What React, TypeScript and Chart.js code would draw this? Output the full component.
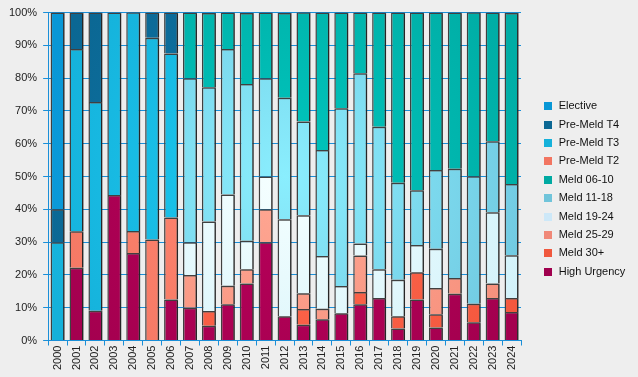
import React, { useEffect, useRef } from "react";
import { Chart, registerables } from "chart.js";

Chart.register(...registerables);

const years = [
  "2000", "2001", "2002", "2003", "2004", "2005", "2006", "2007", "2008", "2009",
  "2010", "2011", "2012", "2013", "2014", "2015", "2016", "2017", "2018", "2019",
  "2020", "2021", "2022", "2023", "2024",
];

// Stacked bottom -> top (percent of each year)
const highUrgency = [0, 22.2, 9.1, 44.4, 26.7, 0, 12.5, 10, 4.5, 11.1, 17.4, 30, 7.4, 4.8, 6.5, 8.3, 11.1, 13.0, 3.7, 12.5, 4, 14.3, 5.6, 13.0, 8.7];
const meld30 = [0, 0, 0, 0, 0, 0, 0, 0, 4.5, 0, 0, 0, 0, 4.8, 0, 0, 3.7, 0, 3.7, 8.3, 4, 0, 5.6, 0, 4.3];
const meld2529 = [0, 0, 0, 0, 0, 0, 0, 10, 0, 5.6, 4.3, 10, 0, 4.8, 3.2, 0, 11.1, 0, 0, 0, 8, 4.8, 0, 4.4, 0];
const meld1924 = [0, 0, 0, 0, 0, 0, 0, 10, 27.3, 27.8, 8.7, 10, 29.6, 23.8, 16.1, 8.3, 3.7, 8.7, 11.1, 8.3, 12, 0, 0, 21.7, 13.0];
const meld1118 = [0, 0, 0, 0, 0, 0, 0, 50, 40.9, 44.4, 47.8, 30, 37.0, 28.6, 32.3, 54.2, 51.9, 43.5, 29.6, 16.7, 24, 33.3, 38.9, 21.7, 21.7];
const meld0610 = [0, 0, 0, 0, 0, 0, 0, 20, 22.7, 11.1, 21.7, 20, 25.9, 33.3, 41.9, 29.2, 18.5, 34.8, 51.9, 54.2, 48, 47.6, 50, 39.2, 52.2];
const preMeldT2 = [0, 11.1, 0, 0, 6.7, 30.8, 25, 0, 0, 0, 0, 0, 0, 0, 0, 0, 0, 0, 0, 0, 0, 0, 0, 0, 0];
const preMeldT3 = [30, 55.6, 63.6, 55.6, 66.7, 61.5, 50, 0, 0, 0, 0, 0, 0, 0, 0, 0, 0, 0, 0, 0, 0, 0, 0, 0, 0];
const preMeldT4 = [10, 11.1, 27.3, 0, 0, 7.7, 12.5, 0, 0, 0, 0, 0, 0, 0, 0, 0, 0, 0, 0, 0, 0, 0, 0, 0, 0];
const elective = [60, 0, 0, 0, 0, 0, 0, 0, 0, 0, 0, 0, 0, 0, 0, 0, 0, 0, 0, 0, 0, 0, 0, 0, 0];

const seriesNames = [
  "High Urgency", "Meld 30+", "Meld 25-29", "Meld 19-24", "Meld 11-18",
  "Meld 06-10", "Pre-Meld T2", "Pre-Meld T3", "Pre-Meld T4", "Elective",
];
const seriesValues = [
  highUrgency, meld30, meld2529, meld1924, meld1118,
  meld0610, preMeldT2, preMeldT3, preMeldT4, elective,
];
const legendColors = [
  "#a0004e", "#f0583e", "#f08878", "#cde8f8", "#70c4da",
  "#00aaa2", "#f27561", "#15b1da", "#0b6793", "#0897d6",
];
const barEdgeColors = [
  "#a4004f", "#f4583e", "#f6907c", "#d2f2fa", "#70c8e0",
  "#00ada5", "#f47864", "#15b1da", "#0b6793", "#0897d6",
];
const barCenterColors = [
  "#b8005a", "#ff6a50", "#ffa894", "#f6ffff", "#8aeefe",
  "#00c6be", "#ff8670", "#1ccaf2", "#0f78aa", "#1aa8ec",
];
const yTickValues = [0, 10, 20, 30, 40, 50, 60, 70, 80, 90, 100];

const FONT = "'Liberation Sans', Arial, sans-serif";
const BLUE = "#1a8fd8";

function radialFill(chart: any, hi: string, base: string) {
  const a = chart.chartArea;
  if (!a) return base;
  const cx = (a.left + a.right) / 2;
  const cy = (a.top + a.bottom) / 2;
  const g = chart.ctx.createRadialGradient(cx, cy, 0, cx, cy, (a.right - a.left) * 0.55);
  g.addColorStop(0, hi);
  g.addColorStop(1, base);
  return g;
}

const shadowPlugin = {
  id: "barShadow",
  beforeDatasetsDraw(chart: any) {
    const ctx = chart.ctx;
    ctx.save();
    ctx.shadowColor = "rgba(0,0,0,0.4)";
    ctx.shadowOffsetX = 2;
    ctx.shadowOffsetY = 0;
    ctx.shadowBlur = 0;
  },
  afterDatasetsDraw(chart: any) {
    chart.ctx.restore();
  },
};

const sideLegendPlugin = {
  id: "sideLegend",
  afterDraw(chart: any) {
    const ctx = chart.ctx;
    const area = chart.chartArea;
    const ds = chart.data.datasets;
    const n = ds.length;
    const spacing = 18.4;
    const mid = chart.height / 2 + 0.4;
    ctx.save();
    ctx.font = `11px ${FONT}`;
    ctx.textBaseline = "middle";
    ctx.textAlign = "left";
    for (let i = 0; i < n; i++) {
      const d = ds[n - 1 - i];
      const y = mid + (i - (n - 1) / 2) * spacing;
      ctx.fillStyle = d.legendColor;
      ctx.fillRect(area.right + 23, Math.round(y - 4), 8, 8);
      ctx.fillStyle = "#111";
      ctx.fillText(d.label, area.right + 37.7, y);
    }
    ctx.restore();
  },
};

export default function App() {
  const canvasRef = useRef<HTMLCanvasElement | null>(null);

  useEffect(() => {
    const canvas = canvasRef.current;
    if (!canvas) return;
    const datasets = seriesNames.map((name, i) => ({
      label: name,
      legendColor: legendColors[i],
      data: seriesValues[i].map((v) => (v === 0 ? null : v)),
      backgroundColor: (c: any) => radialFill(c.chart, barCenterColors[i], barEdgeColors[i]),
      borderColor: "#404040",
      borderWidth: 1.5,
      barPercentage: 0.74,
      categoryPercentage: 1,
    }));

    const chart = new Chart(canvas, {
      type: "bar",
      data: { labels: years, datasets: datasets as any },
      options: {
        responsive: false,
        animation: false,
        devicePixelRatio: 1,
        layout: { padding: { left: 3, top: 12, right: 117, bottom: 7 } },
        plugins: {
          legend: { display: false },
          tooltip: { enabled: false },
          title: { display: false },
        },
        scales: {
          x: {
            stacked: true,
            offset: true,
            grid: {
              display: true,
              offset: true,
              drawOnChartArea: false,
              drawTicks: true,
              tickLength: 5,
              color: BLUE,
            },
            border: { display: true, color: BLUE, width: 1 },
            ticks: {
              autoSkip: false,
              minRotation: 90,
              maxRotation: 90,
              padding: 0,
              color: "#222",
              font: { family: FONT, size: 11 },
            },
          },
          y: {
            stacked: true,
            min: 0,
            max: 100,
            afterBuildTicks: (scale: any) => {
              scale.ticks = yTickValues.map((v) => ({ value: v }));
            },
            grid: {
              display: true,
              drawOnChartArea: true,
              drawTicks: true,
              tickLength: 5,
              color: BLUE,
            },
            border: { display: true, color: BLUE, width: 1 },
            ticks: {
              padding: 6,
              color: "#222",
              font: { family: FONT, size: 11 },
              callback: (v: any) => `${v}%`,
            },
          },
        },
      },
      plugins: [shadowPlugin, sideLegendPlugin],
    });
    return () => chart.destroy();
  }, []);

  return (
    <div
      style={{
        position: "fixed",
        left: 0,
        top: 0,
        width: 638,
        height: 377,
        background: "#eeeeee",
      }}
    >
      <canvas ref={canvasRef} width={638} height={377} style={{ display: "block" }} />
    </div>
  );
}
